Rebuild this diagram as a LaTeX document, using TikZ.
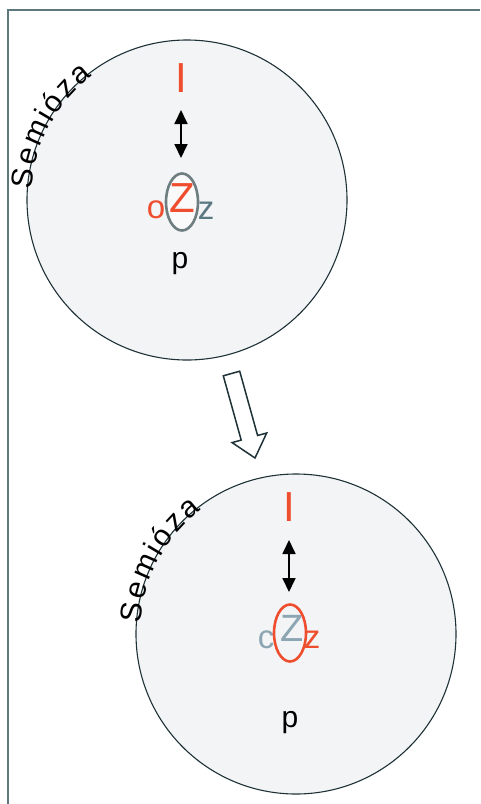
\documentclass[tikz,border=0pt]{standalone}
\usepackage{fontspec}
\setmainfont{Liberation Sans}
\usetikzlibrary{arrows.meta,shapes.geometric}
\definecolor{zred}{RGB}{238,77,46}
\definecolor{ellgray}{RGB}{110,125,128}
\definecolor{tealgray}{RGB}{90,120,130}
\definecolor{lightgray2}{RGB}{140,165,178}
\definecolor{circfill}{RGB}{243,244,246}
\definecolor{circline}{RGB}{30,50,55}
\definecolor{framecol}{RGB}{95,120,125}
\tikzset{
  sem/.style={draw=circline, line width=1.1pt, fill=circfill},
  bigletter/.style={inner sep=0pt, font=\fontsize{42}{42}\selectfont},
  smallletter/.style={inner sep=0pt, font=\fontsize{33}{33}\selectfont},
  pletter/.style={inner sep=0pt, anchor=base, font=\fontsize{30}{30}\selectfont},
  semletter/.style={inner sep=0pt, anchor=base, font=\fontsize{30}{30}\selectfont},
  dbl/.style={line width=1.8pt, {Triangle[width=13pt,length=14pt]}-{Triangle[width=13pt,length=14pt]}},
  oval/.style={line width=2.6pt, inner sep=0pt, minimum width=32pt, minimum height=57pt, ellipse},
  hollow/.style={draw=circline, line width=1.5pt, fill=white, line join=miter},
  frameline/.style={draw=framecol, line width=2pt}
}
\newcommand{\semword}[2]{%
  \foreach \l/\a [count=\k] in {S/172.5, e/164.5, m/156, i/149.3, ó/144, z/137, a/130.3}
    \node[semletter, rotate=\a-90] (#2\k) at ([shift={(-\a:156)}]#1) {\l};
}
\begin{document}
\begin{tikzpicture}[x=1pt,y=-1pt]
\useasboundingbox (0,0) rectangle (480,804);
% frame
\coordinate (fbl) at (8,804);
\coordinate (ftl) at (8,10);
\coordinate (ftr) at (480,10);
\draw[frameline] (fbl) -- (ftl) -- (ftr);

% ---------- top circle ----------
\coordinate (c1) at (187,200);
\draw[sem] (c1) circle[radius=160];
\semword{c1}{sa}
\node[bigletter, text=zred] (i1) at (181,78) {I};
\node[smallletter, text=zred] (o1) at (156,210) {o};
\node[oval, draw=ellgray, fill=white, fill opacity=0.6, draw opacity=1] (e1) at (182,202) {};
\node[bigletter, text=zred] (z1) at (182,198) {Z};
\node[smallletter, text=tealgray] (s1) at (206,211) {z};
\node[pletter] (p1) at (180,268) {p};
\coordinate (a1t) at (181,110);
\coordinate (a1b) at (181,158);
\draw[dbl] (a1t) -- (a1b);

% ---------- hollow arrow ----------
\draw[hollow] (223.3,375.8) -- (241.2,440.1) -- (232.1,442.6) -- (255,458)
  -- (266.7,433.0) -- (257.6,435.5) -- (239.7,371.2) -- cycle;

% ---------- bottom circle ----------
\coordinate (c2) at (296,634);
\draw[sem] (c2) circle[radius=160];
\semword{c2}{sb}
\node[bigletter, text=zred] (i2) at (289,507) {I};
\node[smallletter, text=lightgray2] (o2) at (266,640) {c};
\node[bigletter, text=lightgray2, font=\fontsize{38}{38}\selectfont] (z2) at (292,628) {Z};
\node[oval, draw=zred] (e2) at (290,633) {};
\node[smallletter, text=zred] (s2) at (312,640) {z};
\node[pletter] (p2) at (290,727) {p};
\coordinate (a2t) at (289,540);
\coordinate (a2b) at (289,592);
\draw[dbl] (a2t) -- (a2b);
\end{tikzpicture}
\end{document}
